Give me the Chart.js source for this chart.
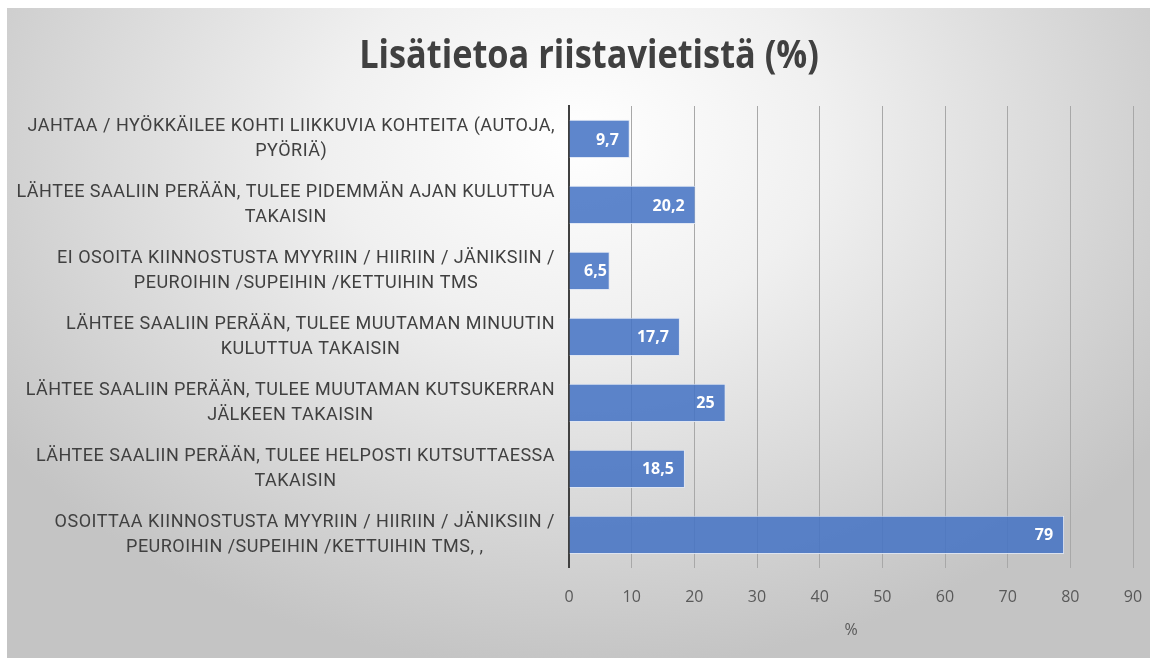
<!DOCTYPE html>
<html>
<head>
<meta charset="utf-8">
<script src="https://cdn.jsdelivr.net/npm/chart.js@4"></script>
<style>
  html, body { margin: 0; padding: 0; background: #fff; }
  #wrap { position: absolute; left: 7px; top: 8px; width: 1143px; height: 650px; }
</style>
</head>
<body>
<div id="wrap"><canvas id="chart"></canvas></div>
<script>
/*------------------------
  DATA
-------------------------*/
var titulo = 'Lisätietoa riistavietistä (%)';
var tituloEjeX = '%';
var categories = [
    ['JAHTAA / HYÖKKÄILEE KOHTI LIIKKUVIA KOHTEITA (AUTOJA,', 'PYÖRIÄ)'],
    ['LÄHTEE SAALIIN PERÄÄN, TULEE PIDEMMÄN AJAN KULUTTUA', 'TAKAISIN'],
    ['EI OSOITA KIINNOSTUSTA MYYRIIN / HIIRIIN / JÄNIKSIIN /', 'PEUROIHIN /SUPEIHIN /KETTUIHIN TMS'],
    ['LÄHTEE SAALIIN PERÄÄN, TULEE MUUTAMAN MINUUTIN', 'KULUTTUA TAKAISIN'],
    ['LÄHTEE SAALIIN PERÄÄN, TULEE MUUTAMAN KUTSUKERRAN', 'JÄLKEEN TAKAISIN'],
    ['LÄHTEE SAALIIN PERÄÄN, TULEE HELPOSTI KUTSUTTAESSA', 'TAKAISIN'],
    ['OSOITTAA KIINNOSTUSTA MYYRIIN / HIIRIIN / JÄNIKSIIN /', 'PEUROIHIN /SUPEIHIN /KETTUIHIN TMS, ,']
];
var values = [9.7, 20.2, 6.5, 17.7, 25, 18.5, 79];
var xTicks = [0, 10, 20, 30, 40, 50, 60, 70, 80, 90];

/*------------------------
  FONDO DEGRADADO
-------------------------*/
var fondo = {
    id: 'fondo',
    beforeDraw: function(chart) {
        var ctx = chart.ctx, w = chart.width, h = chart.height;
        ctx.save();
        ctx.translate(w / 2, h * 0.2);
        ctx.scale(1, 0.75);
        var g = ctx.createRadialGradient(0, 0, 0, 0, 0, w * 0.62);
        g.addColorStop(0, '#ffffff');
        g.addColorStop(0.35, '#f0f0f0');
        g.addColorStop(1, '#c4c4c4');
        ctx.fillStyle = g;
        ctx.fillRect(-w, -h * 2, w * 2, h * 4);
        ctx.restore();
    }
};

/*------------------------
  TITULOS Y ETIQUETAS DEL EJE Y
-------------------------*/
var textos = {
    id: 'textos',
    afterDraw: function(chart) {
        var ctx = chart.ctx;
        var area = chart.chartArea;
        var y = chart.scales.y;
        ctx.save();

        // titulo (comprimido tipo Calibri)
        ctx.fillStyle = '#404040';
        ctx.font = "bold 39px 'Open Sans', sans-serif";
        ctx.textAlign = 'center';
        ctx.textBaseline = 'middle';
        ctx.save();
        ctx.translate(589 - 7, 49);
        ctx.scale(0.88, 1);
        ctx.fillText(titulo, 0, 0);
        ctx.restore();

        // titulo eje x
        ctx.fillStyle = '#595959';
        ctx.font = "16px 'Open Sans', sans-serif";
        ctx.fillText(tituloEjeX, (area.left + area.right) / 2, 622);

        // etiquetas: bloque alineado a la derecha, lineas centradas
        ctx.font = "18px 'Roboto', sans-serif";
        ctx.letterSpacing = '0.5px';
        ctx.fillStyle = '#404040';
        categories.forEach(function(lines, i) {
            var cy = y.getPixelForValue(i);
            var maxW = 0;
            lines.forEach(function(l) { maxW = Math.max(maxW, ctx.measureText(l).width); });
            var cx = area.left - 14 - maxW / 2;
            var lh = 25;
            lines.forEach(function(l, k) {
                ctx.fillText(l, cx, cy + (k - (lines.length - 1) / 2) * lh);
            });
        });
        ctx.restore();
    }
};

/*------------------------
  ETIQUETAS DE DATOS
-------------------------*/
var etiquetas = {
    id: 'etiquetas',
    afterDatasetsDraw: function(chart) {
        var ctx = chart.ctx;
        var meta = chart.getDatasetMeta(0);
        var x0 = chart.scales.x.getPixelForValue(0);
        ctx.save();
        ctx.font = "bold 16px 'Open Sans', sans-serif";
        ctx.fillStyle = '#ffffff';
        ctx.textBaseline = 'middle';
        meta.data.forEach(function(bar, i) {
            var txt = String(values[i]).replace('.', ',');
            var tw = ctx.measureText(txt).width;
            var left = Math.max(bar.x - 11 - tw, x0 + 15);
            ctx.fillText(txt, left, bar.y + 1);
        });
        ctx.restore();
    }
};

var config = {
    type: 'bar',
    data: {
        labels: categories,
        datasets: [{
            data: values,
            backgroundColor: 'rgba(68, 114, 196, 0.86)',
            borderColor: 'rgba(222, 230, 244, 0.9)',
            borderWidth: 1,
            borderSkipped: 'start',
            barPercentage: 0.58,
            categoryPercentage: 1
        }]
    },
    options: {
        indexAxis: 'y',
        responsive: true,
        maintainAspectRatio: false,
        animation: false,
        layout: { padding: { left: 0, right: 17, top: 98, bottom: 31 } },
        plugins: {
            legend: { display: false },
            tooltip: { enabled: false },
            title: { display: false }
        },
        scales: {
            x: {
                min: 0,
                max: 90,
                afterBuildTicks: function(axis) {
                    axis.ticks = xTicks.map(function(v) { return { value: v }; });
                },
                afterFit: function(axis) {
                    axis.paddingLeft = 0;
                    axis.paddingRight = 0;
                },
                grid: { color: '#a8a8a8', lineWidth: 1, drawTicks: false },
                border: { display: false },
                ticks: {
                    color: '#595959',
                    padding: 20,
                    font: { family: "'Open Sans', sans-serif", size: 16 }
                }
            },
            y: {
                grid: { display: false, drawTicks: false },
                border: { display: true, color: '#404040', width: 2 },
                ticks: { display: false },
                afterFit: function(axis) { axis.width = 562; }
            }
        }
    },
    plugins: [fondo, etiquetas, textos]
};

window.onload = function() {
    var ctx = document.getElementById('chart').getContext('2d');
    window.myBar = new Chart(ctx, config);
};
</script>
</body>
</html>
